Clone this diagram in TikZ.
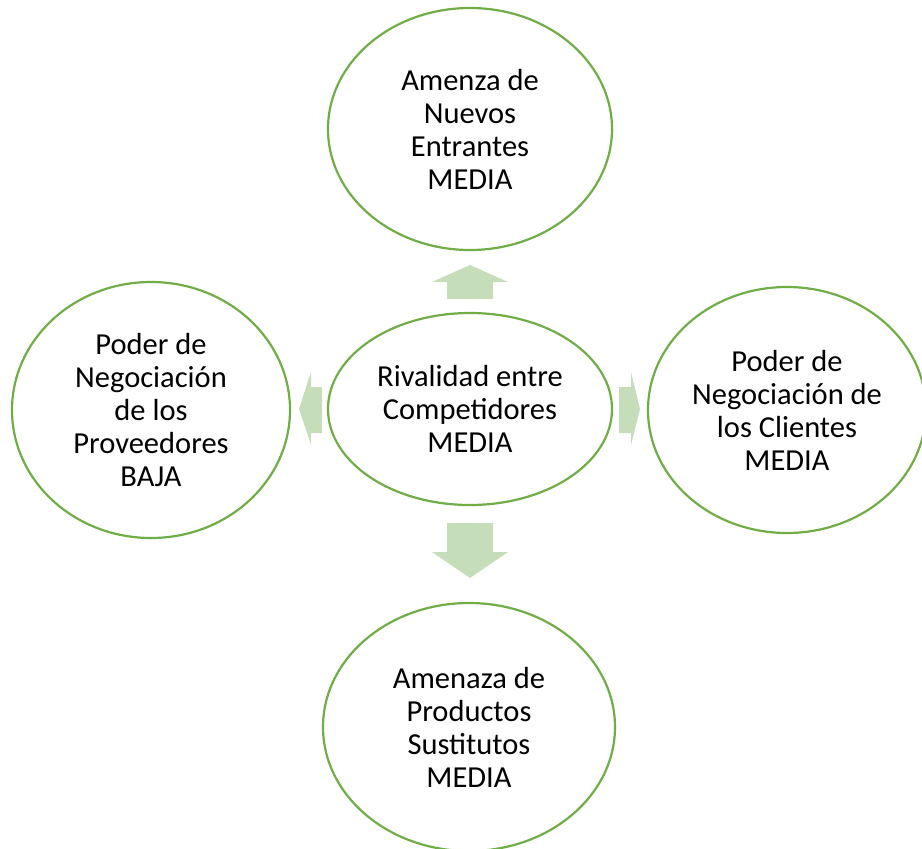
\documentclass[tikz,border=0pt]{standalone}
\usepackage{fontspec}
\setmainfont{Carlito}
\usetikzlibrary{shapes.geometric}
\definecolor{verde}{HTML}{70AD47}
\definecolor{verdeclaro}{HTML}{C5DDB8}

\begin{document}
\begin{tikzpicture}[
    x=1pt, y=-1pt,
    every node/.style={font=\fontsize{30.5}{33}\selectfont, align=center},
    fuerza/.style={ellipse, draw=verde, line width=2.2pt, inner sep=0pt},
    bloque/.style={fill=verdeclaro, draw=none}
]
    \useasboundingbox (0,0) rectangle (922,849);

    % ---- Nuevos entrantes ----
    \node[fuerza, minimum width=284pt, minimum height=242pt] (nuevos) at (470,129)
        {Amenza de\\Nuevos\\Entrantes\\MEDIA};

    % ---- Rivalidad ----
    \node[fuerza, minimum width=284pt, minimum height=192pt] (rival) at (470,409)
        {Rivalidad entre\\Competidores\\MEDIA};

    % ---- Proveedores ----
    \node[fuerza, minimum width=278pt, minimum height=256pt] (prov) at (151,410)
        {Poder de\\Negociación\\de los\\Proveedores\\BAJA};

    % ---- Clientes ----
    \node[fuerza, minimum width=278pt, minimum height=246pt] (cli) at (787,410)
        {Poder de\\Negociación de\\los Clientes\\MEDIA};

    % ---- Sustitutos ----
    \node[fuerza, minimum width=292pt, minimum height=248pt] (sust) at (469,727)
        {Amenaza de\\Productos\\Sustitutos\\MEDIA};

    % ---- Flechas ----
    \fill[bloque] (447,299) -- (447,282) -- (432,282) -- (470,265) -- (508,282)
        -- (493,282) -- (493,299) -- cycle;
    \fill[bloque] (447,523) -- (493,523) -- (493,552) -- (508,552) -- (470,578)
        -- (432,552) -- (447,552) -- cycle;
    \fill[bloque] (322,387) -- (311,387) -- (311,372) -- (299,409) -- (311,445)
        -- (311,433) -- (322,433) -- cycle;
    \fill[bloque] (619,387) -- (631,387) -- (631,372) -- (640,409) -- (631,445)
        -- (631,433) -- (619,433) -- cycle;

\end{tikzpicture}
\end{document}
